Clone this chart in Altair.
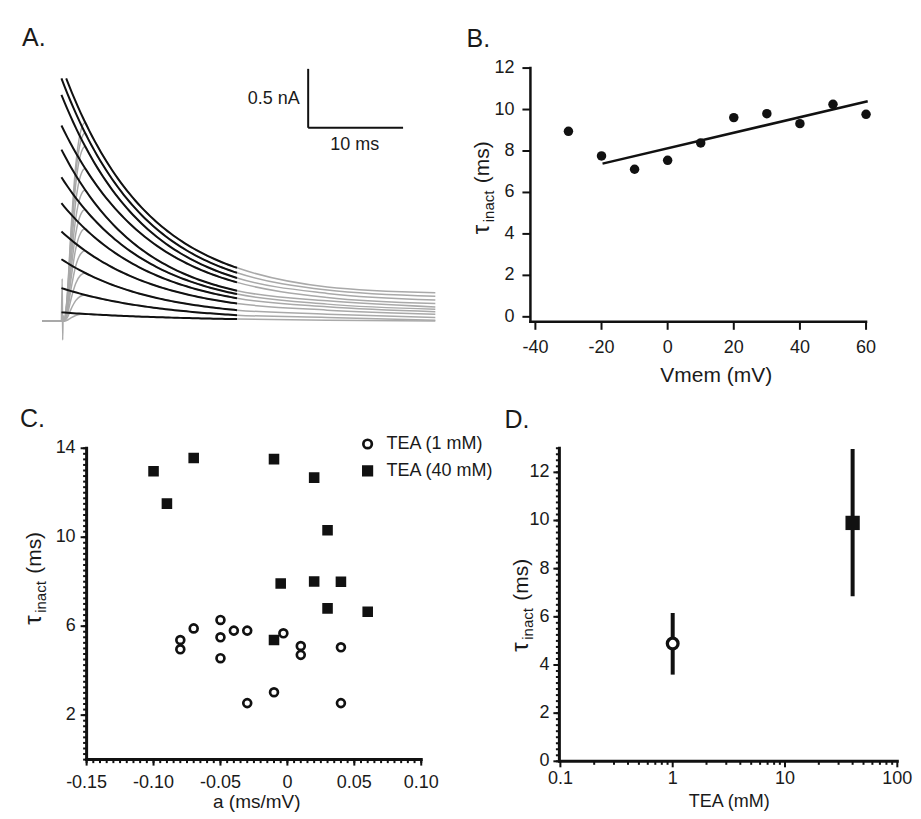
import altair as alt
import pandas as pd
import numpy as np

W, H = 905, 803
FONT = "Liberation Sans"
INK = "#111111"
TXT = "#1a1a1a"

# ---------------- Panel A: current traces (t in ms, I in nA) ----------------
fit_start_nA = [2.06, 2.06, 1.92, 1.66, 1.455, 1.22, 1.00, 0.76, 0.525, 0.28, 0.074]
fit_t0_ms = [0.0, 0.5, 0.0, 0.0, 0.0, 0.0, 0.0, 0.0, 0.0, 0.0, 0.0]
fit_tau_ms = [8.8, 8.85, 8.8, 9.25, 8.6, 9.1, 9.5, 9.7, 9.5, 10.8, 12.6]
fit_offset_nA = [0.18, 0.21, 0.15, 0.12, 0.10, 0.08, 0.06, 0.043, 0.021, 0.0, 0.0]
fit_end_ms = 18.5
rise_t = [0.25, 0.6, 1.0, 1.5, 2.0, 2.5]
rise_frac = [0.0, 0.12, 0.45, 0.78, 0.95, 1.0]
tail_t = [28.0, 39.4]
tail_28 = [0.263, 0.29, 0.235, 0.201, 0.172, 0.144, 0.121, 0.093, 0.059, 0.031, 0.008]
tail_39 = [0.21, 0.24, 0.18, 0.15, 0.12, 0.10, 0.079, 0.059, 0.031, 0.008, 0.0]
artifact_t = [0.0, 0.08, 0.13, 0.18, 0.25]
artifact_I = [0.0, 0.36, -0.16, 0.05, 0.0]
bar_t = [26.0, 36.0]
bar_I = [1.64, 2.14]

# ---------------- Panel B ----------------
vmem = [-30, -20, -10, 0, 10, 20, 30, 40, 50, 60]
tau_b = [8.95, 7.76, 7.12, 7.55, 8.39, 9.61, 9.80, 9.32, 10.25, 9.77]
line_v = [-19.7, 60.5]
line_tau = [7.39, 10.40]

# ---------------- Panel C ----------------
c1_a = [-0.08, -0.08, -0.07, -0.05, -0.05, -0.05, -0.04, -0.03, -0.03, -0.01, -0.003, 0.01, 0.01, 0.04, 0.04]
c1_tau = [5.38, 4.96, 5.90, 6.28, 5.50, 4.56, 5.80, 5.80, 2.54, 3.03, 5.68, 5.11, 4.71, 5.05, 2.54]
c40_a = [-0.10, -0.09, -0.07, -0.01, 0.02, 0.03, -0.005, 0.02, 0.04, 0.03, 0.06, -0.01]
c40_tau = [12.97, 11.51, 13.56, 13.51, 12.68, 10.31, 7.92, 8.01, 8.00, 6.80, 6.65, 5.38]
groups = ["TEA (1 mM)", "TEA (40 mM)"]

# ---------------- Panel D ----------------
tea = [1, 40]
tau_mean = [4.89, 9.90]
tau_lo = [3.60, 6.85]
tau_hi = [6.16, 12.97]

# ---------------- tick values and labels ----------------
b_xticks = [-40, -20, 0, 20, 40, 60]
b_xlabels = ["-40", "-20", "0", "20", "40", "60"]
b_yticks = [0, 2, 4, 6, 8, 10, 12]
b_ylabels = ["0", "2", "4", "6", "8", "10", "12"]
c_xticks = [-0.15, -0.10, -0.05, 0, 0.05, 0.10]
c_xlabels = ["-0.15", "-0.10", "-0.05", "0", "0.05", "0.10"]
c_yticks = [2, 6, 10, 14]
c_ylabels = ["2", "6", "10", "14"]
c_xminor = [round(-0.15 + 0.005 * i, 4) for i in range(51)]
c_yminor = [0.25 * i for i in range(57)]
d_xticks = [0.1, 1, 10, 100]
d_xlabels = ["0.1", "1", "10", "100"]
d_xminor = [m * d for d in (0.1, 1, 10) for m in range(2, 10)]
d_yticks = [0, 2, 4, 6, 8, 10, 12]
d_ylabels = ["0", "2", "4", "6", "8", "10", "12"]
d_yminor = [0.25 * i for i in range(53)]

# ---------------- build Panel A tables ----------------
gray_rows, fit_rows = [], []
for k in range(len(fit_start_nA)):
    A = fit_start_nA[k] - fit_offset_nA[k]
    f = lambda t: fit_offset_nA[k] + A * np.exp(-(t - fit_t0_ms[k]) / fit_tau_ms[k])
    for t in np.linspace(fit_t0_ms[k], fit_end_ms, 60):
        fit_rows.append({"s": k, "t": float(t), "I": float(f(t))})
    pts = [(-2.0, 0.0), (0.0, 0.0)]
    join = f(rise_t[-1])
    pts += [(rt, rf * join) for rt, rf in zip(rise_t, rise_frac)]
    pts += [(float(t), float(f(t))) for t in np.linspace(rise_t[-1], fit_end_ms, 40)[1:]]
    pts += [(tail_t[0], tail_28[k]), (tail_t[1], tail_39[k])]
    for i, (t, v) in enumerate(pts):
        gray_rows.append({"s": k, "o": i, "t": t, "I": v})
for i, (t, v) in enumerate(zip(artifact_t, artifact_I)):
    gray_rows.append({"s": 99, "o": i, "t": t, "I": v})
gray_df = pd.DataFrame(gray_rows)
fit_df = pd.DataFrame(fit_rows)
bars_df = pd.DataFrame({"t": [bar_t[0], bar_t[0]], "t2": [bar_t[0], bar_t[1]],
                        "I": [bar_I[0], bar_I[0]], "I2": [bar_I[1], bar_I[0]]})

ax = alt.Scale(domain=[-2, 39.4], range=[34.5, 427.8], nice=False, zero=False)
ay = alt.Scale(domain=[-0.5, 2.2], range=[372, 53.4], nice=False, zero=False)

grayA = alt.Chart(gray_df).mark_line(color="#a9a9a9", strokeWidth=1.5, interpolate="monotone").encode(
    x=alt.X("t:Q", scale=ax, axis=None), y=alt.Y("I:Q", scale=ay, axis=None),
    detail="s:N", order="o:Q")
fitA = alt.Chart(fit_df).mark_line(color=INK, strokeWidth=2).encode(
    x=alt.X("t:Q", scale=ax, axis=None), y=alt.Y("I:Q", scale=ay, axis=None), detail="s:N")
barA = alt.Chart(bars_df).mark_rule(color=INK, strokeWidth=2).encode(
    x=alt.X("t:Q", scale=ax, axis=None), x2="t2:Q",
    y=alt.Y("I:Q", scale=ay, axis=None), y2="I2:Q")
lblA1 = alt.Chart(pd.DataFrame({"t": [25.1], "I": [1.88]})).mark_text(
    text="0.5 nA", font=FONT, fontSize=18, color=TXT, align="right", baseline="middle").encode(
    x=alt.X("t:Q", scale=ax, axis=None), y=alt.Y("I:Q", scale=ay, axis=None))
lblA2 = alt.Chart(pd.DataFrame({"t": [30.9], "I": [1.49]})).mark_text(
    text="10 ms", font=FONT, fontSize=18, color=TXT, align="center", baseline="middle").encode(
    x=alt.X("t:Q", scale=ax, axis=None), y=alt.Y("I:Q", scale=ay, axis=None))
panelA = alt.layer(grayA, fitA, barA, lblA1, lblA2)


# ---------------- hand-built axes (drawn through each panel's scales) ----------------
def haxis(sc, lo, hi, ticks, labels, ypx, tick=8, dw=2.5, gap=4, minor=None):
    out = [
        alt.Chart(pd.DataFrame({"a": [lo], "b": [hi]})).mark_rule(
            color=INK, strokeWidth=dw, strokeCap="square").encode(
            x=alt.X("a:Q", scale=sc, axis=None), x2="b:Q", y=alt.value(ypx)),
        alt.Chart(pd.DataFrame({"v": ticks})).mark_rule(color=INK, strokeWidth=2).encode(
            x=alt.X("v:Q", scale=sc, axis=None), y=alt.value(ypx), y2=alt.value(ypx + tick)),
        alt.Chart(pd.DataFrame({"v": ticks, "l": labels})).mark_text(
            font=FONT, fontSize=18, color=TXT, align="center", baseline="top").encode(
            x=alt.X("v:Q", scale=sc, axis=None), y=alt.value(ypx + tick + gap), text="l:N"),
    ]
    if minor:
        out.append(alt.Chart(pd.DataFrame({"v": minor})).mark_rule(color=INK, strokeWidth=2).encode(
            x=alt.X("v:Q", scale=sc, axis=None), y=alt.value(ypx), y2=alt.value(ypx + 3.5)))
    return out


def vaxis(sc, lo, hi, ticks, labels, xpx, tick=8, dw=2.5, gap=6, minor=None):
    out = [
        alt.Chart(pd.DataFrame({"a": [lo], "b": [hi]})).mark_rule(
            color=INK, strokeWidth=dw, strokeCap="square").encode(
            y=alt.Y("a:Q", scale=sc, axis=None), y2="b:Q", x=alt.value(xpx)),
        alt.Chart(pd.DataFrame({"v": ticks})).mark_rule(color=INK, strokeWidth=2).encode(
            y=alt.Y("v:Q", scale=sc, axis=None), x=alt.value(xpx - tick), x2=alt.value(xpx)),
        alt.Chart(pd.DataFrame({"v": ticks, "l": labels})).mark_text(
            font=FONT, fontSize=18, color=TXT, align="right", baseline="middle").encode(
            y=alt.Y("v:Q", scale=sc, axis=None), x=alt.value(xpx - tick - gap), text="l:N"),
    ]
    if minor:
        out.append(alt.Chart(pd.DataFrame({"v": minor})).mark_rule(color=INK, strokeWidth=2).encode(
            y=alt.Y("v:Q", scale=sc, axis=None), x=alt.value(xpx - 3.5), x2=alt.value(xpx)))
    return out


# ---------------- Panel B chart ----------------
bx = alt.Scale(domain=[-41.5, 60], range=[523, 859], nice=False, zero=False)
by = alt.Scale(domain=[-0.24, 12], range=[313.7, 59.7], nice=False, zero=False)
b_df = pd.DataFrame({"v": vmem, "tau": tau_b})
bl_df = pd.DataFrame({"v": line_v, "tau": line_tau})
ptsB = alt.Chart(b_df).mark_circle(size=90, color=INK, opacity=1).encode(
    x=alt.X("v:Q", scale=bx, axis=None), y=alt.Y("tau:Q", scale=by, axis=None))
lineB = alt.Chart(bl_df).mark_line(color=INK, strokeWidth=2.5).encode(
    x=alt.X("v:Q", scale=bx, axis=None), y=alt.Y("tau:Q", scale=by, axis=None))
panelBx = alt.layer(*haxis(bx, -41.5, 60, b_xticks, b_xlabels, 313.7, tick=8, gap=9))
panelBy = alt.layer(*vaxis(by, -0.24, 12, b_yticks, b_ylabels, 523, tick=8, gap=8))
panelB = alt.layer(lineB, ptsB)

# ---------------- Panel C chart ----------------
cx = alt.Scale(domain=[-0.15, 0.10], range=[78.7, 413.7], nice=False, zero=False)
cy = alt.Scale(domain=[0, 14], range=[752, 440.3], nice=False, zero=False)
shape_sc = alt.Scale(domain=groups, range=["circle", "square"])
fill_sc = alt.Scale(domain=groups, range=["white", INK])
c_df = pd.DataFrame({"a": c1_a + c40_a, "tau": c1_tau + c40_tau,
                     "g": [groups[0]] * len(c1_a) + [groups[1]] * len(c40_a)})
ptsC = alt.Chart(c_df).mark_point(filled=True, size=62, stroke=INK, strokeWidth=2.7, opacity=1).encode(
    x=alt.X("a:Q", scale=cx, axis=None), y=alt.Y("tau:Q", scale=cy, axis=None),
    shape=alt.Shape("g:N", scale=shape_sc, legend=None),
    fill=alt.Fill("g:N", scale=fill_sc, legend=None))
panelCx = alt.layer(*haxis(cx, -0.15, 0.10, c_xticks, c_xlabels, 752, tick=6, dw=3, gap=8, minor=c_xminor))
panelCy = alt.layer(*vaxis(cy, 0, 14, c_yticks, c_ylabels, 78.7, tick=6, dw=3, gap=5, minor=c_yminor))
panelC = ptsC

# legend of panel C
leg_df = pd.DataFrame({"g": groups})
leg_y = alt.Scale(domain=groups, range=[436, 463], padding=0)
legSym = alt.Chart(leg_df).mark_point(filled=True, size=72, stroke=INK, strokeWidth=2.7, opacity=1).encode(
    x=alt.value(360), y=alt.Y("g:N", scale=leg_y, axis=None),
    shape=alt.Shape("g:N", scale=shape_sc, legend=None),
    fill=alt.Fill("g:N", scale=fill_sc, legend=None))
legTxt = alt.Chart(leg_df).mark_text(font=FONT, fontSize=18, color=TXT, align="left", baseline="middle").encode(
    x=alt.value(379), y=alt.Y("g:N", scale=leg_y, axis=None), text="g:N")
legendC = alt.layer(legSym, legTxt)

# ---------------- Panel D chart ----------------
dx = alt.Scale(type="log", domain=[0.1, 100], range=[553, 890.3], nice=False)
dy = alt.Scale(domain=[0, 13], range=[753.7, 440.3], nice=False, zero=False)
d_df = pd.DataFrame({"tea": tea, "m": tau_mean, "lo": tau_lo, "hi": tau_hi})
errD = alt.Chart(d_df).mark_rule(color=INK, strokeWidth=4).encode(
    x=alt.X("tea:Q", scale=dx, axis=None), y=alt.Y("lo:Q", scale=dy, axis=None), y2="hi:Q")
circD = alt.Chart(d_df.iloc[[0]]).mark_point(shape="circle", filled=True, fill="white", stroke=INK,
                                             strokeWidth=3.3, size=115, opacity=1).encode(
    x=alt.X("tea:Q", scale=dx, axis=None), y=alt.Y("m:Q", scale=dy, axis=None))
sqD = alt.Chart(d_df.iloc[[1]]).mark_square(color=INK, size=205, opacity=1).encode(
    x=alt.X("tea:Q", scale=dx, axis=None), y=alt.Y("m:Q", scale=dy, axis=None))
panelDx = alt.layer(*haxis(dx, 0.1, 100, d_xticks, d_xlabels, 753.7, tick=6, dw=3, gap=3, minor=d_xminor))
panelDy = alt.layer(*vaxis(dy, 0, 13, d_yticks, d_ylabels, 552, tick=6, dw=3, gap=4, minor=d_yminor))
panelD = alt.layer(errD, circD, sqD)

# ---------------- text annotations ----------------
one = pd.DataFrame({"k": [0]})


def txt(s, x, y, size, angle=0, align="left", baseline="alphabetic"):
    return alt.Chart(one).mark_text(text=s, font=FONT, fontSize=size, color=TXT, align=align,
                                    baseline=baseline, angle=angle).encode(
        x=alt.value(x), y=alt.value(y))


def tau_title(x, y0):
    # rotated title: tau + subscript 'inact' + ' (ms)', reading bottom to top from y0
    return [txt("\u03c4", x, y0, 24, angle=270),
            txt("inact", x + 5, y0 - 12, 15, angle=270),
            txt("(ms)", x, y0 - 12 - 33 - 6, 21, angle=270)]


texts = [
    txt("A.", 14, 38, 25), txt("B.", 459, 39, 25), txt("C.", 12, 419, 25), txt("D.", 497, 420, 25),
    txt("Vmem (mV)", 709, 374, 21, align="center"),
    txt("a (ms/mV)", 249, 800, 19, align="center"),
    txt("TEA (mM)", 722, 799, 18, align="center"),
] + tau_title(482, 226) + tau_title(33, 617) + tau_title(521, 644)

chart = alt.layer(
    panelA, panelB, panelBx, panelBy, panelCx, panelCy, panelC, legendC,
    panelDx, panelDy, panelD, *texts
).resolve_scale(
    x="independent", y="independent"
).properties(width=W, height=H, padding=0).configure_view(stroke=None)

chart.save("out.html", embed_options={"renderer": "svg", "actions": False})
